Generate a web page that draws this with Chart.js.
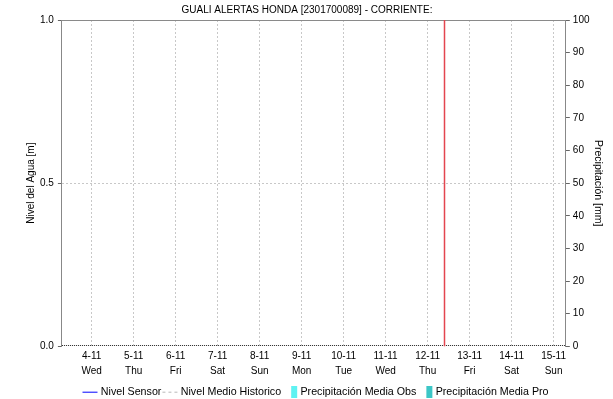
<!DOCTYPE html>
<html><head><meta charset="utf-8">
<script src="https://cdn.jsdelivr.net/npm/chart.js@4/dist/chart.umd.min.js"></script>
<style>html,body{margin:0;padding:0;background:#fff}#w{width:613px;height:399px}</style>
</head><body><div id="w"><canvas id="c" width="613" height="399"></canvas></div>
<script>
// Time axis in hours from 3-11 00:00
const xMinHour = 7;
const xMaxHour = 295;
const dayTickHours = [24,48,72,96,120,144,168,192,216,240,264,288];
const dayLabels = ['4-11','5-11','6-11','7-11','8-11','9-11','10-11','11-11','12-11','13-11','14-11','15-11'];
const weekdayLabels = ['Wed','Thu','Fri','Sat','Sun','Mon','Tue','Wed','Thu','Fri','Sat','Sun'];
const nowHour = 225.3; // current time marker (12-11 ~09:15)

const sensorHours = [];
const sensorLevels = [];
const historicoHours = [];
const historicoLevels = [];
const precipObsHours = [];
const precipObs = [];
const precipProHours = [];
const precipPro = [];

const levelTicks = [0, 0.5, 1.0];

const toXY = (xs, ys) => xs.map((x, i) => ({x, y: ys[i]}));

Chart.defaults.font.family = 'Liberation Sans, Arial, sans-serif';
Chart.defaults.font.size = 10;
Chart.defaults.color = '#000';

function legendIcon(kind, color) {
  const cv = document.createElement('canvas');
  const g = cv.getContext('2d');
  cv.width = 30; cv.height = 12;
  if (kind === 'line' || kind === 'dash') {
    g.strokeStyle = color; g.lineWidth = 1;
    if (kind === 'dash') g.setLineDash([3,3]);
    g.beginPath(); g.moveTo(6, 6.5); g.lineTo(21, 6.5); g.stroke();
  } else {
    g.fillStyle = color; g.fillRect(15, 0, 6, 12);
  }
  return cv;
}

const framePlugin = {
  id: 'framePlugin',
  afterLayout(chart) {
    if (chart.titleBlock) { chart.titleBlock.left -= 8; chart.titleBlock.right -= 8; }
    if (chart.legend) { chart.legend.left += 3; chart.legend.right += 3; }
  },
  afterDatasetsDraw(chart) {
    const xs = chart.scales.x, ys = chart.scales.y, a = chart.chartArea, ctx = chart.ctx;
    ctx.save();
    ctx.strokeStyle = '#8a8a8a'; ctx.lineWidth = 1;
    ctx.beginPath(); ctx.moveTo(a.left, a.top + 0.5); ctx.lineTo(a.right, a.top + 0.5); ctx.stroke();
    const y0 = Math.round(ys.getPixelForValue(0)) - 0.5;
    ctx.strokeStyle = '#222'; ctx.setLineDash([1,1]);
    ctx.beginPath(); ctx.moveTo(a.left, y0); ctx.lineTo(a.right, y0); ctx.stroke();
    ctx.setLineDash([]);
    const px = Math.round(xs.getPixelForValue(nowHour)) + 0.5;
    ctx.strokeStyle = '#e4464f'; ctx.lineWidth = 1.5;
    ctx.beginPath(); ctx.moveTo(px, a.top); ctx.lineTo(px, a.bottom); ctx.stroke();
    ctx.restore();
  }
};

const icons = [legendIcon('line','#0000ff'), legendIcon('dash','#b8b8b8'), legendIcon('rect','#5ff2f2'), legendIcon('rect','#3cc6c6')];

new Chart(document.getElementById('c'), {
  data: {
    datasets: [
      {type:'line', label:'Nivel Sensor', data: toXY(sensorHours, sensorLevels), borderColor:'#0000ff', backgroundColor:'#0000ff', borderWidth:1, pointRadius:0, yAxisID:'y'},
      {type:'line', label:'Nivel Medio Historico', data: toXY(historicoHours, historicoLevels), borderColor:'#c0c0c0', backgroundColor:'#c0c0c0', borderDash:[3,3], borderWidth:1, pointRadius:0, yAxisID:'y'},
      {type:'bar', label:'Precipitación Media Obs', data: toXY(precipObsHours, precipObs), backgroundColor:'#5ff2f2', borderColor:'#5ff2f2', yAxisID:'y1'},
      {type:'bar', label:'Precipitación Media Pro', data: toXY(precipProHours, precipPro), backgroundColor:'#3cc6c6', borderColor:'#3cc6c6', yAxisID:'y1'}
    ]
  },
  options: {
    responsive: false,
    animation: false,
    layout: {padding: {left: 26, right: 9, top: 0, bottom: -8}},
    plugins: {
      title: {display: true, text: 'GUALI ALERTAS HONDA [2301700089] - CORRIENTE:', font:{size:10, weight:'normal'}, color:'#000', padding:{top:4, bottom:4}},
      legend: {
        position: 'bottom',
        labels: {
          usePointStyle: true, pointStyleWidth: 8, boxHeight: 11, padding: 6, font:{size:10.7}, color:'#000',
          generateLabels(chart) {
            const items = Chart.defaults.plugins.legend.labels.generateLabels(chart);
            items.forEach((it, i) => { it.pointStyle = icons[i]; });
            return items;
          }
        }
      },
      tooltip: {enabled:false}
    },
    scales: {
      x: {
        type: 'linear', min: xMinHour, max: xMaxHour, offset: false,
        afterBuildTicks(s) { s.ticks = dayTickHours.map(v => ({value: v})); },
        ticks: {
          autoSkip: false, maxRotation: 0, padding: 2, font:{size:10, lineHeight:1.5},
          callback(v) { const i = dayTickHours.indexOf(v); return i < 0 ? '' : [dayLabels[i], weekdayLabels[i]]; }
        },
        grid: {color:'#c8c8c8', drawTicks:false, tickLength:0, offset:false},
        border: {display:false, dash:[2,2]}
      },
      y: {
        type: 'linear', position: 'left', min: 0, max: 1,
        afterBuildTicks(s) { s.ticks = levelTicks.map(v => ({value: v})); },
        ticks: {callback: v => v.toFixed(1), padding: 4},
        title: {display:true, text:'Nivel del Agua [m]', font:{size:10, lineHeight:1.0}, padding:{top:0,bottom:0}},
        grid: {
          color: c => (c.tick && c.tick.value === 0.5) ? '#c8c8c8' : 'rgba(0,0,0,0)',
          tickColor: '#666', tickLength: 4, tickBorderDash: [], tickWidth: 1
        },
        border: {color:'#888', dash:[2,2]}
      },
      y1: {
        type: 'linear', position: 'right', min: 0, max: 100,
        ticks: {stepSize: 10, padding: 3},
        title: {display:true, text:'Precipitación [mm]', font:{size:10.5, lineHeight:1.0}, padding:{top:1,bottom:0}},
        grid: {drawOnChartArea:false, tickColor:'#666', tickLength:4},
        border: {color:'#888'}
      }
    }
  },
  plugins: [framePlugin]
});
</script></body></html>
